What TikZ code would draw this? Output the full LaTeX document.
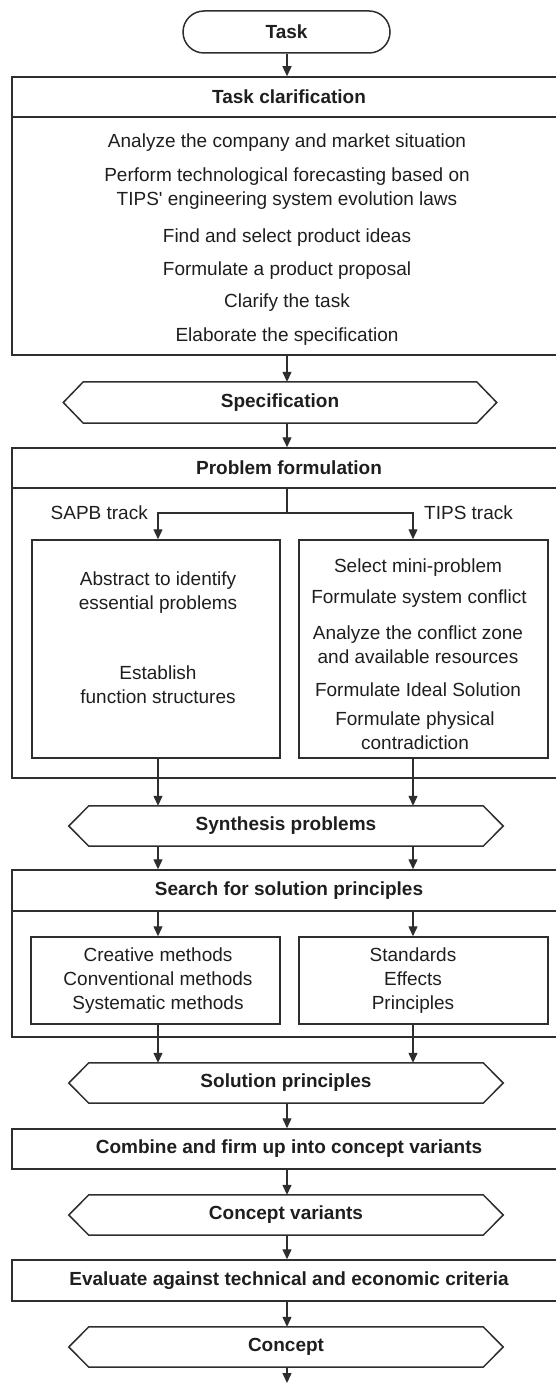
\documentclass[tikz,border=0pt]{standalone}
\usepackage{fontspec}
\setmainfont{Liberation Sans}[Ligatures=TeXOff]
\usetikzlibrary{arrows.meta}

\definecolor{ink}{HTML}{1E1E1E}
\definecolor{edge}{HTML}{2E2E2E}

% outline of a hexagonal data node (pointed at both sides)
\newcommand{\hexoutline}[1]{%
  \draw[hexline] ([xshift=20pt]#1.north west) -- ([xshift=-20pt]#1.north east)
    -- (#1.east) -- ([xshift=-20pt]#1.south east)
    -- ([xshift=20pt]#1.south west) -- (#1.west) -- cycle;}

\begin{document}
\begin{tikzpicture}[x=1pt,y=-1pt,
  font=\fontsize{19}{24}\selectfont, text=ink,
  box/.style={draw=edge, line width=1.5pt, rectangle, inner sep=0pt},
  wide/.style={box, minimum width=554pt},
  hdr/.style={wide, minimum height=40pt, font=\fontsize{19}{24}\selectfont\bfseries},
  sub/.style={box, minimum width=248pt},
  hexa/.style={rectangle, inner sep=0pt, minimum width=434pt, minimum height=40pt,
    font=\fontsize{19}{24}\selectfont\bfseries},
  hexline/.style={draw=edge, line width=1.5pt, line join=miter},
  item/.style={inner sep=0pt, align=center},
  arr/.style={draw=edge, line width=1.3pt, -{Triangle[length=10pt,width=9pt]}},
  wire/.style={draw=edge, line width=1.3pt}
]
\useasboundingbox (0,0) rectangle (556,1388);

% ---------- start ----------
\node[box, rounded corners=21pt, minimum width=207pt, minimum height=42pt,
      font=\fontsize{19}{24}\selectfont\bfseries] (task) at (286.5,32) {Task};

% ---------- task clarification ----------
\node[hdr] (clarh) at (289,97) {Task clarification};
\node[wide, minimum height=238pt] (clarb) at (289,236) {};
\node[item] (c1) at (287,143) {Analyze the company and market situation};
\node[item] (c2) at (287,188.5) {Perform technological forecasting based on\\TIPS' engineering system evolution laws};
\node[item] (c3) at (287,238) {Find and select product ideas};
\node[item] (c4) at (287,271) {Formulate a product proposal};
\node[item] (c5) at (287,303) {Clarify the task};
\node[item] (c6) at (287,337) {Elaborate the specification};

\node[hexa, minimum width=433pt, minimum height=41pt] (spec) at (280,402.5) {Specification};
\hexoutline{spec}

% ---------- problem formulation ----------
\node[hdr] (probh) at (289,468) {Problem formulation};
\node[wide, minimum height=290pt] (probb) at (289,633) {};
\node[sub, minimum height=218pt] (sapb) at (156,649) {};
\node[sub, minimum height=218pt, minimum width=249pt] (tips) at (423.5,649) {};
\node[item, anchor=east] (sapbl) at (148,513) {SAPB track};
\node[item, anchor=west] (tipsl) at (424,513) {TIPS track};

\node[item] (s1) at (158,592.5) {Abstract to identify\\essential problems};
\node[item] (s2) at (158,685) {Establish\\function structures};

\node[item] (t1) at (418,568) {Select mini-problem};
\node[item] (t2) at (419,599) {Formulate system conflict};
\node[item] (t3) at (418,645) {Analyze the conflict zone\\and available resources};
\node[item] (t4) at (418,690) {Formulate Ideal Solution};
\node[item] (t5) at (415,730.5) {Formulate physical\\contradiction};

\node[hexa] (synth) at (286,826) {Synthesis problems};
\hexoutline{synth}

% ---------- search for solution principles ----------
\node[hdr, minimum height=41pt] (searchh) at (289,890.5) {Search for solution principles};
\node[wide, minimum height=126pt] (searchb) at (289,974) {};
\node[sub, minimum height=87pt, minimum width=249pt] (creat) at (155.5,980.5) {};
\node[sub, minimum height=87pt, minimum width=249pt] (stand) at (423.5,980.5) {};
\node[item] (cr) at (158,981) {Creative methods\\Conventional methods\\Systematic methods};
\node[item] (st) at (413,981) {Standards\\Effects\\Principles};

\node[hexa] (sol) at (286,1083) {Solution principles};
\hexoutline{sol}

% ---------- concept stages ----------
\node[wide, minimum height=40pt, font=\fontsize{19}{24}\selectfont\bfseries] (comb) at (289,1149) {Combine and firm up into concept variants};
\node[hexa] (cv) at (286,1215) {Concept variants};
\hexoutline{cv}
\node[wide, minimum height=41pt, font=\fontsize{19}{24}\selectfont\bfseries] (eval) at (289,1280.5) {Evaluate against technical and economic criteria};
\node[hexa] (concept) at (286,1347) {Concept};
\hexoutline{concept}

% ---------- reference columns and free ends ----------
\coordinate (mid) at (287,0);
\coordinate (colL) at (158,0);
\coordinate (colR) at (413,0);
\coordinate (split) at (287,513);
\coordinate (out) at (287,1383);

% ---------- connectors ----------
\draw[arr] (task.south -| mid) -- (clarh.north -| mid);
\draw[arr] (clarb.south -| mid) -- (spec.north -| mid);
\draw[arr] (spec.south -| mid) -- (probh.north -| mid);

\draw[wire] (probh.south -| split) -- (split);
\draw[arr] (split) -| (sapb.north -| colL);
\draw[arr] (split) -| (tips.north -| colR);

\draw[arr] (sapb.south -| colL) -- (synth.north -| colL);
\draw[arr] (tips.south -| colR) -- (synth.north -| colR);
\draw[arr] (synth.south -| colL) -- (searchh.north -| colL);
\draw[arr] (synth.south -| colR) -- (searchh.north -| colR);
\draw[arr] (searchh.south -| colL) -- (creat.north -| colL);
\draw[arr] (searchh.south -| colR) -- (stand.north -| colR);
\draw[arr] (creat.south -| colL) -- (sol.north -| colL);
\draw[arr] (stand.south -| colR) -- (sol.north -| colR);

\draw[arr] (sol.south -| mid) -- (comb.north -| mid);
\draw[arr] (comb.south -| mid) -- (cv.north -| mid);
\draw[arr] (cv.south -| mid) -- (eval.north -| mid);
\draw[arr] (eval.south -| mid) -- (concept.north -| mid);
\draw[arr] (concept.south -| mid) -- (out);
\end{tikzpicture}
\end{document}
